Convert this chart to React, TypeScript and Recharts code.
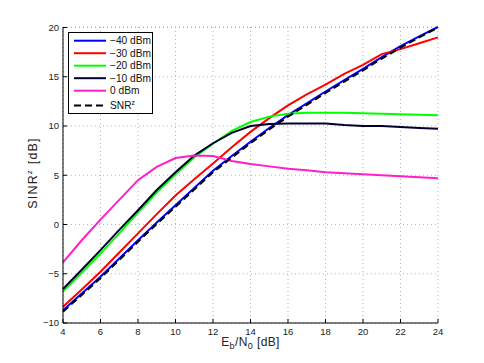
import React from "react";
import { LineChart, Line, XAxis, YAxis, CartesianGrid, Legend } from "recharts";

// Eb/N0 [dB]
const ebn0 = [4, 5, 6, 7, 8, 9, 10, 11, 12, 13, 14, 15, 16, 17, 18, 19, 20, 21, 22, 23, 24];

// SINR^z [dB] per input power
const sinrM40 = [-8.7, -7.0, -5.3, -3.45, -1.6, 0.2, 1.95, 3.7, 5.45, 6.95, 8.4, 9.8, 11.1, 12.3, 13.5, 14.65, 15.8, 17.0, 18.1, 19.1, 20.05];
const sinrM30 = [-8.35, -6.6, -4.8, -2.85, -0.9, 1.05, 2.95, 4.6, 6.2, 7.85, 9.4, 10.8, 12.1, 13.2, 14.2, 15.3, 16.2, 17.3, 17.8, 18.4, 19.0];
const sinrM20 = [-6.8, -4.9, -2.95, -0.9, 1.2, 3.25, 5.1, 6.8, 8.2, 9.5, 10.4, 10.95, 11.25, 11.35, 11.35, 11.35, 11.3, 11.25, 11.2, 11.15, 11.1];
const sinrM10 = [-6.55, -4.6, -2.6, -0.55, 1.45, 3.5, 5.3, 7.0, 8.25, 9.3, 10.0, 10.2, 10.25, 10.25, 10.25, 10.1, 10.0, 10.0, 9.9, 9.8, 9.72];
const sinr0 = [-3.85, -1.6, 0.5, 2.5, 4.5, 5.85, 6.75, 7.0, 6.95, 6.45, 6.15, 5.9, 5.65, 5.5, 5.3, 5.2, 5.1, 5.0, 4.9, 4.8, 4.7];
const snrZ = [-8.85, -7.15, -5.45, -3.6, -1.75, 0.05, 1.8, 3.55, 5.3, 6.8, 8.25, 9.65, 10.95, 12.15, 13.35, 14.5, 15.65, 16.85, 17.95, 19.0, 20.0];

const seriesKeys = ["m40", "m30", "m20", "m10", "p0", "snr"];
const seriesNames = ["\u221240 dBm", "\u221230 dBm", "\u221220 dBm", "\u221210 dBm", "0 dBm", "SNRz"];

const xTicks = [4, 6, 8, 10, 12, 14, 16, 18, 20, 22, 24];
const yTicks = [-10, -5, 0, 5, 10, 15, 20];

const data = ebn0.map((x, i) => ({
  x,
  m40: sinrM40[i],
  m30: sinrM30[i],
  m20: sinrM20[i],
  m10: sinrM10[i],
  p0: sinr0[i],
  snr: snrZ[i],
}));

const FONT = '"Liberation Sans", Arial, Helvetica, sans-serif';
const fmt = (v: number) => (v < 0 ? `\u2212${-v}` : `${v}`);
const tickStyle = { fontSize: 9.5, fill: "#222", fontFamily: FONT };

function XLabel(props: any) {
  const vb = props.viewBox;
  const cx = vb.x + vb.width / 2;
  const y = vb.y + 23;
  return (
    <text x={cx} y={y} textAnchor="middle" fontSize={12} fill="#222" fontFamily={FONT} letterSpacing={0.4}>
      <tspan>E</tspan>
      <tspan fontSize={9} dy={3}>b</tspan>
      <tspan dy={-3}>/N</tspan>
      <tspan fontSize={9} dy={3}>0</tspan>
      <tspan dy={-3}> [dB]</tspan>
    </text>
  );
}

function YLabel(props: any) {
  const vb = props.viewBox;
  const x = vb.x + 36.5;
  const y = vb.y + vb.height / 2 - 2;
  return (
    <text
      x={x}
      y={y}
      transform={`rotate(-90 ${x} ${y})`}
      textAnchor="middle"
      fontSize={12.5}
      fill="#222"
      fontFamily={FONT}
      letterSpacing={1.2}
    >
      <tspan>SINR</tspan>
      <tspan fontSize={8} dy={-5}>z</tspan>
      <tspan dy={5}> [dB]</tspan>
    </text>
  );
}

function LegendBox(props: any) {
  const payload = [...(props.payload || [])].sort(
    (a: any, b: any) => seriesKeys.indexOf(a.dataKey) - seriesKeys.indexOf(b.dataKey)
  );
  return (
    <svg width={86} height={83} style={{ display: "block" }}>
      <rect x={0.5} y={0.5} width={84} height={81} fill="#fff" stroke="#000" strokeWidth={1} />
      {payload.map((p: any, i: number) => {
        const cy = i < 5 ? 8.7 + i * 12.5 : 73.5;
        const dash = p.payload && p.payload.strokeDasharray;
        return (
          <g key={i}>
            <line x1={6} x2={38} y1={cy} y2={cy} stroke={p.color} strokeWidth={2} strokeDasharray={dash} />
            <text x={42} y={cy + 3.6} fontSize={10.2} fill="#111" fontFamily={FONT}>
              {p.value === "SNRz" ? (
                <>
                  <tspan>SNR</tspan>
                  <tspan fontSize={7} dy={-4}>z</tspan>
                </>
              ) : (
                p.value
              )}
            </text>
          </g>
        );
      })}
    </svg>
  );
}

const colors = ["#0000ff", "#ff0000", "#00ff00", "#000030", "#ff1ec8", "#000000"];

export default function App() {
  return (
    <div style={{ position: "absolute", left: 0, top: 0, width: 484, height: 363, background: "#fff" }}>
      <LineChart width={484} height={363} data={data} margin={{ top: 27, right: 46, bottom: 0, left: 0 }}>
        <CartesianGrid stroke="#b5b5b5" strokeDasharray="1 3" />
        <XAxis
          dataKey="x"
          type="number"
          domain={[4, 24]}
          ticks={xTicks}
          height={40}
          tickSize={-4}
          tickMargin={9}
          tick={tickStyle}
          axisLine={{ stroke: "#000" }}
          tickLine={{ stroke: "#000" }}
          interval={0}
          label={{ content: (p: any) => <XLabel {...p} /> }}
        />
        <XAxis
          xAxisId="top"
          orientation="top"
          dataKey="x"
          type="number"
          domain={[4, 24]}
          ticks={xTicks}
          height={0}
          tickSize={-4}
          tick={false}
          axisLine={{ stroke: "#000" }}
          tickLine={{ stroke: "#000" }}
          interval={0}
        />
        <YAxis
          type="number"
          domain={[-10, 20]}
          ticks={yTicks}
          width={63}
          tickSize={-4}
          tickMargin={8}
          tick={tickStyle}
          tickFormatter={fmt}
          axisLine={{ stroke: "#000" }}
          tickLine={{ stroke: "#000" }}
          interval={0}
          label={{ content: (p: any) => <YLabel {...p} /> }}
        />
        <YAxis
          yAxisId="right"
          orientation="right"
          type="number"
          domain={[-10, 20]}
          ticks={yTicks}
          width={0}
          tickSize={-4}
          tick={false}
          axisLine={{ stroke: "#000" }}
          tickLine={{ stroke: "#000" }}
          interval={0}
        />
        <Legend
          layout="horizontal"
          verticalAlign="middle"
          align="center"
          wrapperStyle={{ left: 68, top: 32, width: 86, height: 83 }}
          content={(p: any) => <LegendBox {...p} />}
        />
        {seriesKeys.map((k, i) => (
          <Line
            key={k}
            dataKey={k}
            name={seriesNames[i]}
            stroke={colors[i]}
            strokeWidth={2}
            strokeDasharray={k === "snr" ? "7 4" : undefined}
            dot={false}
            isAnimationActive={false}
          />
        ))}
      </LineChart>
    </div>
  );
}
